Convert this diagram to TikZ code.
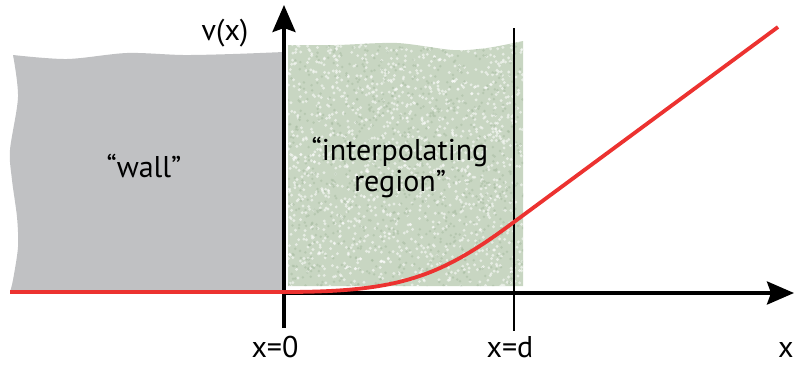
\documentclass[tikz,border=0pt]{standalone}
\usepackage{fontspec}
\setmainfont{PT Sans}
\usetikzlibrary{arrows.meta}
\definecolor{wallgray}{HTML}{C0C1C3}
\definecolor{moss}{HTML}{C8D6C2}
\definecolor{mossdark}{HTML}{A9BDA3}
\definecolor{curvered}{HTML}{EC3230}

\begin{document}
\begin{tikzpicture}[
  x=1pt, y=-1pt,
  font=\fontsize{30}{31}\selectfont,
  axis/.style ={line width=3.6pt, -{Stealth[length=27pt, width=23pt, inset=4pt]}},
  mark line/.style={line width=1.8pt},
  pot/.style  ={draw=curvered, line width=3.8pt, line join=round},
  lbl/.style  ={inner sep=0pt, align=center}
]
\useasboundingbox (0,0) rectangle (794,364);

% the wall
\fill[wallgray] plot[smooth] coordinates {(13,55) (67,59) (127,53) (183,55) (233,54) (284,52)}
  -- (284,292) -- plot[smooth] coordinates {(10,292) (13,280) (18,247) (17,217) (12,180) (10,150) (18,97) (13,55)} -- cycle;

% grainy region between 0 and d
\pgfmathsetseed{11}
\begin{scope}
  \clip plot[smooth] coordinates {(288,45) (337,45) (397,43) (453,50) (487,48) (523,41)}
    -- (523,286) -- (288,286) -- cycle;
  \fill[moss] (280,30) rectangle (530,290);
  \foreach \i in {1,...,1400}
    \fill[white, opacity=0.55] ({288+236*rnd},{38+250*rnd}) circle (1.6);
  \foreach \i in {1,...,900}
    \fill[mossdark, opacity=0.55] ({288+236*rnd},{38+250*rnd}) circle (1.4);
\end{scope}

\coordinate (origin) at (284,293);
\coordinate (ybot)   at (284,328);
\coordinate (ytip)   at (284,5);
\coordinate (xtip)   at (794,293);
\coordinate (dtop)   at (514,28);
\coordinate (dbot)   at (514,331);

\draw[mark line] (dtop) -- (dbot);
\draw[axis] (ybot) -- (ytip);
\draw[axis] ([xshift=-2pt]origin) -- (xtip);

\draw[pot] (10,292) -- (284,292) .. controls (400,292) and (440,277) .. (514,222) -- (778,27);

\node[lbl] (wall)   at (144,166) {“wall”};
\node[lbl] (interp) at (400,168) {“interpolating\\region”};
\node[lbl] (vlabel) at (225,33)  {v(x)};
\node[lbl, anchor=base] (x0) at (275,357) {x=0};
\node[lbl, anchor=base] (xd) at (510,357) {x=d};
\node[lbl, anchor=base west] (xlab) at (778,357) {x};
\end{tikzpicture}
\end{document}
